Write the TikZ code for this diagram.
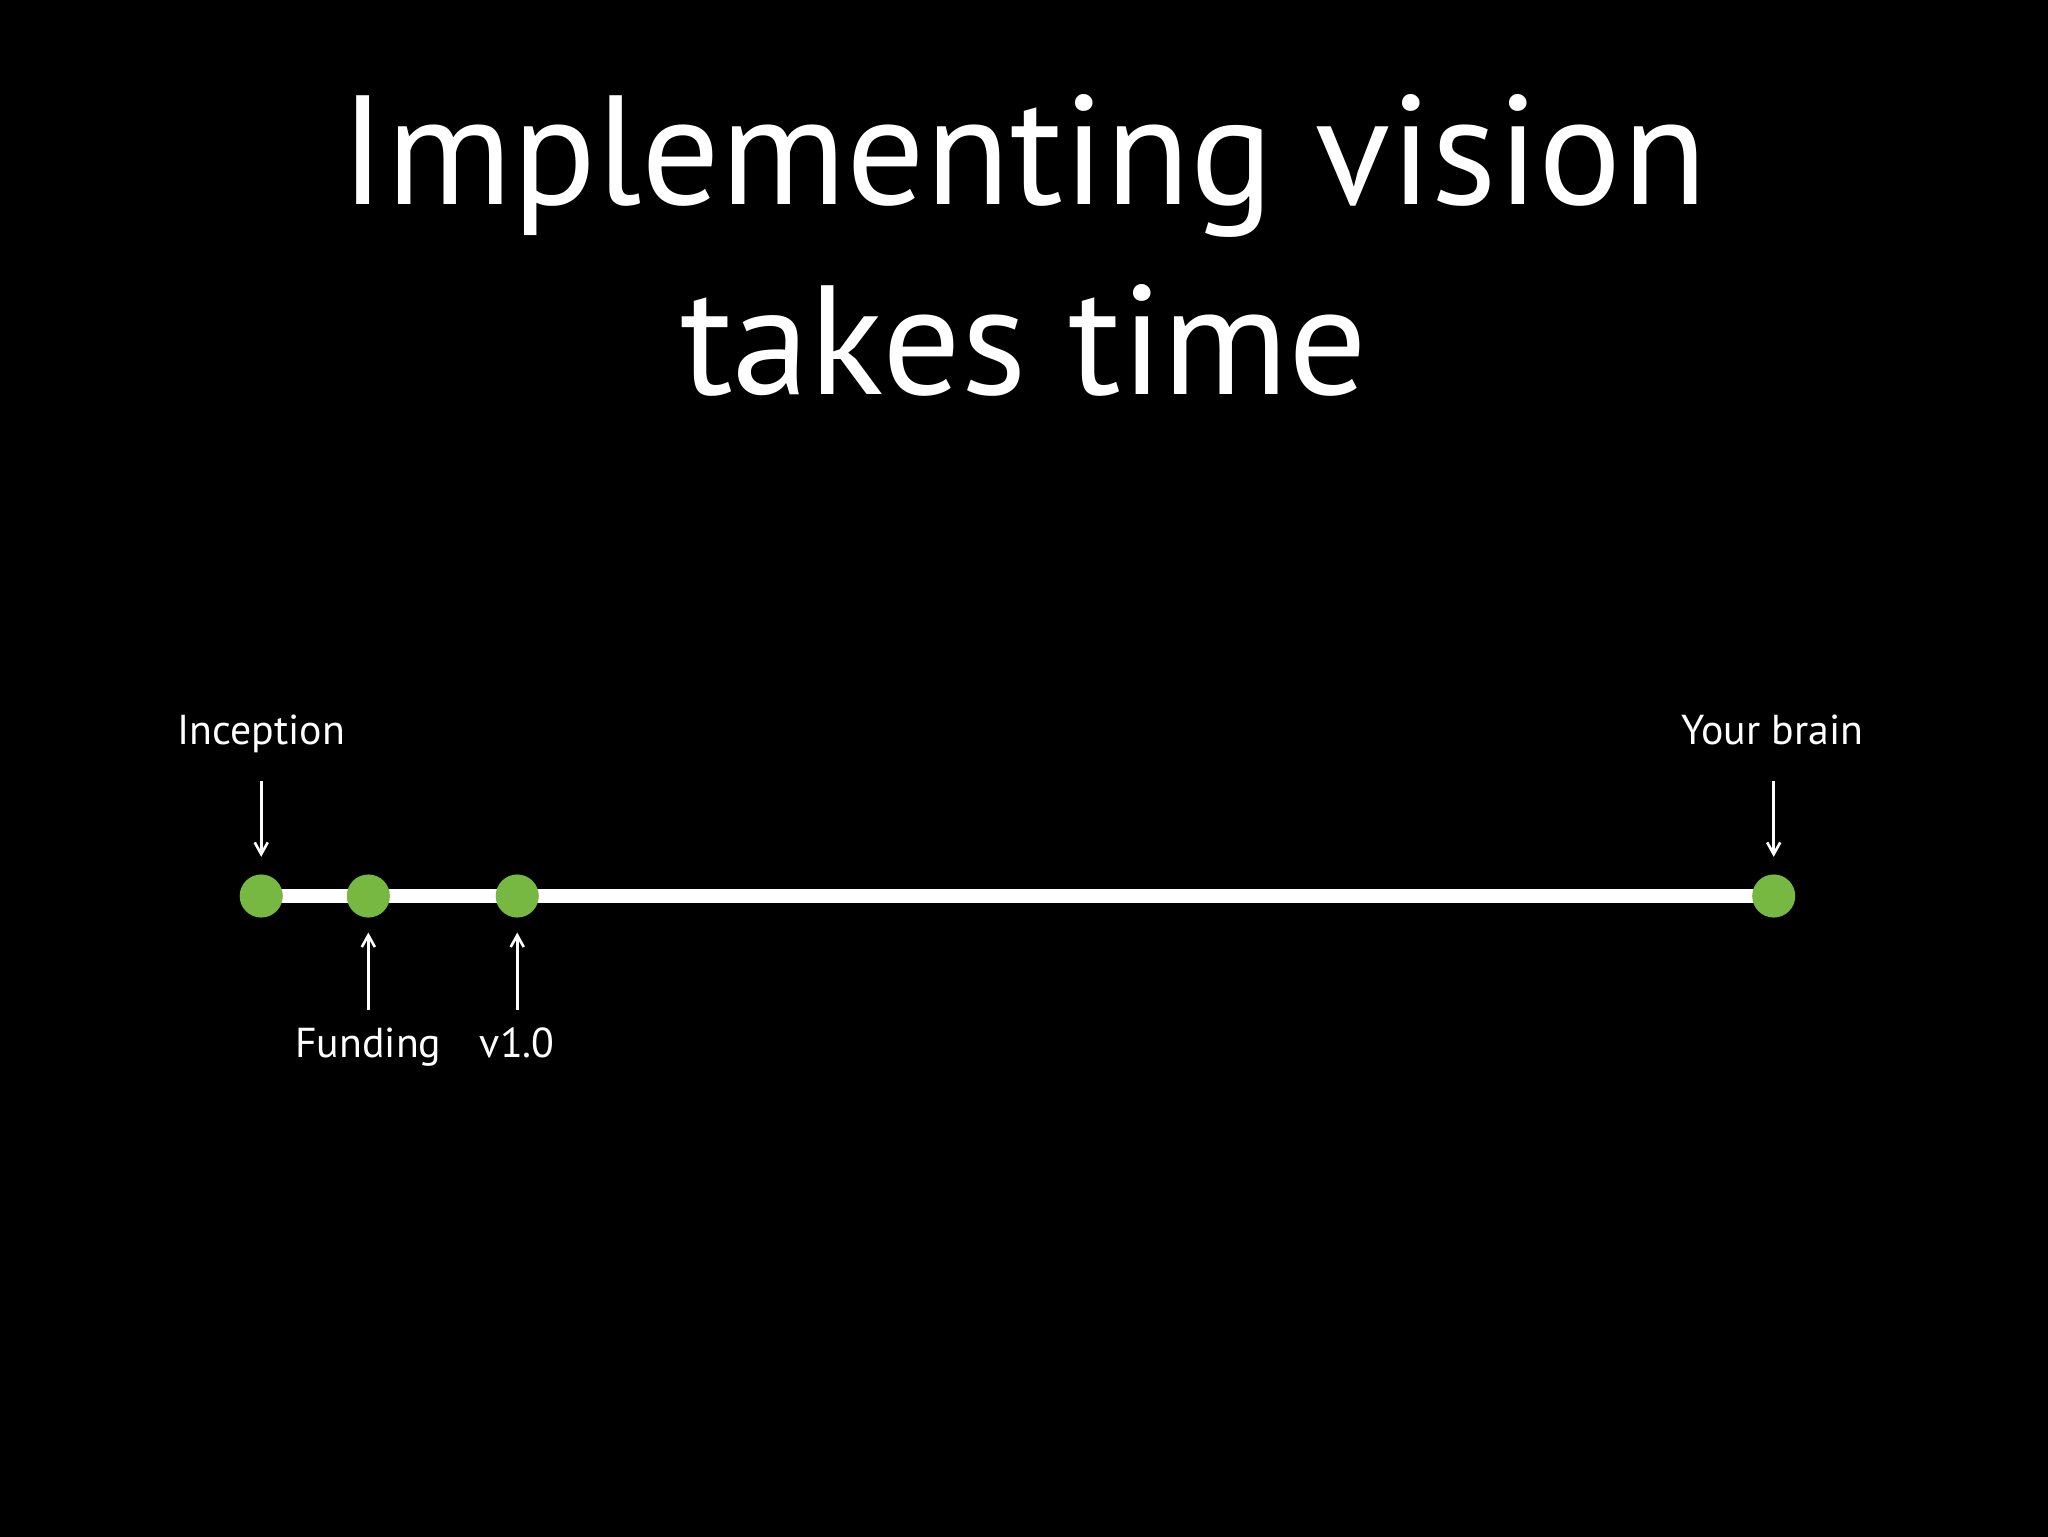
\documentclass[tikz,border=0pt]{standalone}
\usepackage{fontspec}
\setmainfont{PT Sans}
\usetikzlibrary{arrows.meta}
\definecolor{dotgreen}{HTML}{77B843}
\begin{document}
\begin{tikzpicture}[x=1pt,y=-1pt,
  dot/.style={circle,fill=dotgreen,minimum size=33pt,inner sep=0pt},
  lbl/.style={text=white,font=\fontsize{32}{36}\selectfont,anchor=base},
  arr/.style={white,line width=2pt,-{Straight Barb[length=9pt,width=10pt]}}]
\useasboundingbox (0,0) rectangle (1568,1176);
\fill[black] (-5,-5) rectangle (1573,1181);
\node[text=white,font=\fontsize{119}{146}\selectfont,align=center] (title) at (784,188) {Implementing vision\\takes time};
\coordinate (ls) at (200,686);
\coordinate (le) at (1358,686);
\draw[white,line width=11pt] (ls) -- (le);
\node[dot] (d1) at (200,686) {};
\node[dot] (d2) at (282,686) {};
\node[dot] (d3) at (396,686) {};
\node[dot] (d4) at (1358,686) {};
\node[lbl] (l1) at (200,570) {Inception};
\node[lbl] (l4) at (1357,570) {Your brain};
\node[lbl] (l2) at (282,810) {Funding};
\node[lbl] (l3) at (396,810) {v1.0};
\draw[arr] (d1 |- 0,598) -- (d1 |- 0,656);
\draw[arr] (d4 |- 0,598) -- (d4 |- 0,656);
\draw[arr] (d2 |- 0,773) -- (d2 |- 0,714);
\draw[arr] (d3 |- 0,773) -- (d3 |- 0,714);
\end{tikzpicture}
\end{document}
